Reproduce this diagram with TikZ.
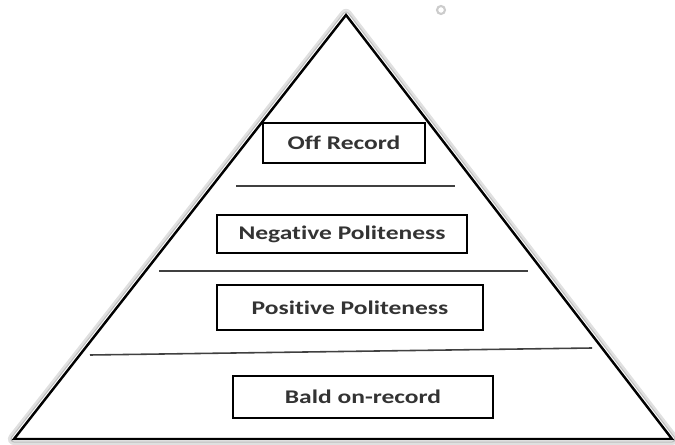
\documentclass[tikz,border=0pt]{standalone}
\usepackage{fontspec}
\usepackage{graphicx}
\setmainfont{Carlito}[Ligatures=NoCommon]
\usetikzlibrary{positioning}
\newcommand{\widetxt}[1]{\scalebox{1.32}[1]{#1}}

\begin{document}
\begin{tikzpicture}[x=0.02cm, y=-0.02cm,
    layerbox/.style={draw, line width=1.2pt, inner sep=0pt, font=\fontsize{11}{13}\selectfont\bfseries, text=black!80},
    divider/.style={draw=black!75, line width=0.9pt}]
            \useasboundingbox (0,0) rectangle (675,445);
            \coordinate (apex) at (346,15);
            \coordinate (bl) at (14,439);
            \coordinate (br) at (672,439);
            % glow round the pyramid
            \draw [line width=7pt, black!12, line join=round] (apex) -- (bl) -- (br) -- cycle;
            \draw [line width=4pt, black!25, line join=round] (apex) -- (bl) -- (br) -- cycle;
            \draw [line width=2.6pt, white, line join=round] (apex) -- (bl) -- (br) -- cycle;
            \fill [white] (apex) -- (bl) -- (br) -- cycle;
            \draw [line width=1.4pt, line join=miter] (apex) -- (bl) -- (br) -- cycle;
            \draw [black!20, line width=1.2pt, fill=white] (441,10) circle (4);
            \node [layerbox, minimum width=3.24cm, minimum height=0.8cm] (offrec) at (344,143) {\widetxt{Off Record}};
            \node [layerbox, minimum width=5.0cm, minimum height=0.76cm] (negpol) at (342,234) {\widetxt{Negative Politeness}};
            \node [layerbox, minimum width=5.32cm, minimum height=0.9cm] (pospol) at (350,307.5) {\widetxt{Positive Politeness}};
            \node [layerbox, minimum width=5.2cm, minimum height=0.84cm] (bald) at (363,397) {\widetxt{Bald on-record}};
            \coordinate (d1l) at (236,186);
            \coordinate (d1r) at (455,186);
            \coordinate (d2l) at (159,271);
            \coordinate (d2r) at (528,271);
            \coordinate (d3l) at (90,355);
            \coordinate (d3r) at (592,348);
            \draw [divider] (d1l) -- (d1r);
            \draw [divider] (d2l) -- (d2r);
            \draw [divider] (d3l) -- (d3r);
        \end{tikzpicture}
\end{document}
